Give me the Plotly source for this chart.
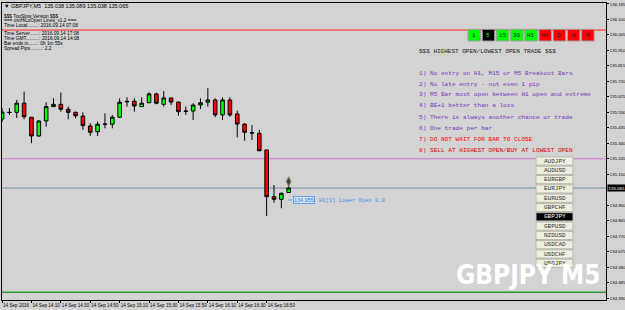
import plotly.graph_objects as go

# ---------------- data ----------------
times = [
    "2016-09-14 13:50", "2016-09-14 13:55", "2016-09-14 14:00", "2016-09-14 14:05",
    "2016-09-14 14:10", "2016-09-14 14:15", "2016-09-14 14:20", "2016-09-14 14:25",
    "2016-09-14 14:30", "2016-09-14 14:35", "2016-09-14 14:40", "2016-09-14 14:45",
    "2016-09-14 14:50", "2016-09-14 14:55", "2016-09-14 15:00", "2016-09-14 15:05",
    "2016-09-14 15:10", "2016-09-14 15:15", "2016-09-14 15:20", "2016-09-14 15:25",
    "2016-09-14 15:30", "2016-09-14 15:35", "2016-09-14 15:40", "2016-09-14 15:45",
    "2016-09-14 15:50", "2016-09-14 15:55", "2016-09-14 16:00", "2016-09-14 16:05",
    "2016-09-14 16:10", "2016-09-14 16:15", "2016-09-14 16:20", "2016-09-14 16:25",
    "2016-09-14 16:30", "2016-09-14 16:35", "2016-09-14 16:40", "2016-09-14 16:45",
    "2016-09-14 16:50", "2016-09-14 16:55", "2016-09-14 17:00", "2016-09-14 17:05",
]
opens = [135.489, 135.530, 135.530, 135.586, 135.500, 135.385, 135.477, 135.565,
         135.579, 135.549, 135.530, 135.507, 135.446, 135.411, 135.458, 135.457,
         135.500, 135.598, 135.598, 135.565, 135.589, 135.643, 135.579, 135.618,
         135.593, 135.538, 135.538, 135.575, 135.592, 135.606, 135.514, 135.606,
         135.520, 135.458, 135.405, 135.401, 135.299, 135.012, 134.996, 135.038]
highs = [135.557, 135.557, 135.606, 135.657, 135.501, 135.483, 135.592, 135.616,
         135.651, 135.565, 135.534, 135.530, 135.463, 135.473, 135.524, 135.514,
         135.616, 135.622, 135.616, 135.622, 135.653, 135.651, 135.661, 135.622,
         135.595, 135.565, 135.586, 135.616, 135.678, 135.616, 135.622, 135.622,
         135.540, 135.463, 135.452, 135.422, 135.299, 135.084, 135.037, 135.089]
lows = [135.471, 135.514, 135.495, 135.487, 135.340, 135.379, 135.442, 135.563,
        135.534, 135.487, 135.493, 135.422, 135.385, 135.385, 135.432, 135.432,
        135.495, 135.565, 135.534, 135.565, 135.586, 135.579, 135.565, 135.575,
        135.509, 135.514, 135.483, 135.551, 135.565, 135.500, 135.483, 135.503,
        135.377, 135.356, 135.360, 135.294, 134.894, 134.975, 134.941, 135.038]
closes = [135.532, 135.529, 135.586, 135.503, 135.385, 135.477, 135.565, 135.579,
          135.549, 135.530, 135.509, 135.448, 135.407, 135.457, 135.457, 135.500,
          135.592, 135.595, 135.569, 135.586, 135.643, 135.586, 135.618, 135.593,
          135.534, 135.536, 135.575, 135.589, 135.606, 135.514, 135.606, 135.514,
          135.458, 135.407, 135.403, 135.294, 135.012, 134.996, 135.033, 135.065]

signal_time = ["2016-09-14 17:05"]
signal_price = [135.105]

xtick_times = ["2016-09-14 13:50", "2016-09-14 14:10", "2016-09-14 14:30", "2016-09-14 14:50",
               "2016-09-14 15:10", "2016-09-14 15:30", "2016-09-14 15:50", "2016-09-14 16:10",
               "2016-09-14 16:30", "2016-09-14 16:50"]
xtick_text = ["14 Sep 2016", "14 Sep 14:10", "14 Sep 14:30", "14 Sep 14:50", "14 Sep 15:10",
              "14 Sep 15:30", "14 Sep 15:50", "14 Sep 16:10", "14 Sep 16:30", "14 Sep 16:50"]

ytick_vals = [136.195, 136.100, 136.005, 135.910, 135.815, 135.720, 135.625, 135.530,
              135.435, 135.340, 135.245, 135.150, 134.960, 134.865, 134.770, 134.675,
              134.580, 134.485, 134.390]

bid_price = 135.065
high_open_line = 136.035
mid_line = 135.245
low_line = 134.425
lower_open_price = "134.955"

timeframes = ["1", "5", "15", "30", "H1", "H4", "D", "W", "M"]
tf_colors = ["#00ff00", "#000000", "#00ff00", "#00ff00", "#00ff00", "#ff0000", "#ff0000", "#ff0000", "#ff0000"]

symbols = ["AUDJPY", "AUDUSD", "EURGBP", "EURJPY", "EURUSD", "GBPCHF",
           "GBPJPY", "GBPUSD", "NZDUSD", "USDCAD", "USDCHF", "USDJPY"]
active_symbol = "GBPJPY"

info_lines = ["$$$ TooSlow Version $$$", "=== omHiLoOpen Lines_v1.2 ===",
              "Time Local........: 2016.09.14 07:08", "Time Server.......: 2016.09.14 17:08",
              "Time GMT..........: 2016.09.14 14:08", "Bar ends in.......: 0h 1m 55s",
              "Spread Pips.........: 2.2"]

rules = ["1) No entry on H1, M15 or M5 Breakout Bars",
         "2) No late entry - not even 1 pip",
         "3) M5 Bar must open between H1 open and extreme",
         "4) BE+1 better than a loss",
         "5) There is always another chance or trade",
         "6) One trade per bar",
         "7) DO NOT WAIT FOR BAR TO CLOSE",
         "8) SELL AT HIGHEST OPEN/BUY AT LOWEST OPEN"]
rule_colors = ["#7a33c0"] * 6 + ["#ff0000", "#e00000"]

# ---------------- layout geometry ----------------
W, H = 625, 310
L, R, T, B = 2, 19, 3, 10
PW, PH = W - L - R, H - T - B
BG = "#d3d3d3"


def px(x):
    return (x - L) / PW


def py(y):
    return 1 - (y - T) / PH


fig = go.Figure()
fig.add_trace(go.Candlestick(
    x=times, open=opens, high=highs, low=lows, close=closes,
    increasing=dict(fillcolor="#00ff00", line=dict(color="#000000", width=1)),
    decreasing=dict(fillcolor="#ff0000", line=dict(color="#000000", width=1)),
    hoverinfo="skip", showlegend=False,
))
fig.add_trace(go.Scatter(
    x=signal_time, y=signal_price, mode="markers",
    marker=dict(symbol="diamond-tall", size=7, color="#4a4038",
                line=dict(color="#8a8a8a", width=1)),
    hoverinfo="skip", showlegend=False,
))

shapes = []
annotations = []

# horizontal lines
for yv, col, wd in [(high_open_line, "#ff2020", 1), (mid_line, "#d070d0", 1),
                    (bid_price, "#778899", 1), (low_line, "#2e9a2e", 1.5)]:
    shapes.append(dict(type="line", xref="paper", yref="y", x0=0, x1=1, y0=yv, y1=yv,
                       line=dict(color=col, width=wd), layer="below"))

# top-left info
annotations.append(dict(text="▼ GBPJPY,M5  135.038 135.089 135.038 135.065", x=px(3), y=py(5.5),
                        xref="paper", yref="paper", xanchor="left", yanchor="middle", showarrow=False,
                        borderpad=0,
                        font=dict(size=5.5, color="#000000", family="Liberation Sans")))
info_y = [16, 21, 26, 33.3, 38.3, 43.3, 48.3]
for t, yy in zip(info_lines, info_y):
    annotations.append(dict(text=t, x=px(3), y=py(yy), xref="paper", yref="paper",
                            xanchor="left", yanchor="middle", showarrow=False, borderpad=0,
                            font=dict(size=4.8, color="#000000", family="Liberation Sans")))

# timeframe buttons
for i, (tf, col) in enumerate(zip(timeframes, tf_colors)):
    x0 = 468 + i * 14.2
    shapes.append(dict(type="rect", xref="paper", yref="paper", x0=px(x0), x1=px(x0 + 12.5),
                       y0=py(41), y1=py(29.3), fillcolor=col, line=dict(color="#a0a0a0", width=1),
                       layer="above"))
    annotations.append(dict(text=tf, x=px(x0 + 6.25), y=py(35.3), xref="paper", yref="paper",
                            xanchor="center", yanchor="middle", showarrow=False,
                            font=dict(size=6, family="Liberation Mono",
                                      color="#00ff00" if col == "#000000" else "#202020")))

# rules header + list
annotations.append(dict(text="$$$ HIGHEST OPEN/LOWEST OPEN TRADE $$$", x=px(417), y=py(51),
                        xref="paper", yref="paper", xanchor="left", yanchor="middle", showarrow=False,
                        font=dict(size=6, family="Liberation Mono", color="#202020")))
rule_y = [73.3, 84, 95, 106, 117.3, 128.3, 139, 150]
for t, yy, c in zip(rules, rule_y, rule_colors):
    annotations.append(dict(text=t, x=px(417), y=py(yy), xref="paper", yref="paper",
                            xanchor="left", yanchor="middle", showarrow=False,
                            font=dict(size=6.1, family="Liberation Mono", color=c)))

# symbol buttons
for i, s in enumerate(symbols):
    yc = 161 + i * 9.3
    active = s == active_symbol
    shapes.append(dict(type="rect", xref="paper", yref="paper", x0=px(536), x1=px(573),
                       y0=py(yc + 4.1), y1=py(yc - 4.1),
                       fillcolor="#000000" if active else "#f0eedc",
                       line=dict(color="#b8b8b0", width=1), layer="above"))
    annotations.append(dict(text=s, x=px(554.5), y=py(yc), xref="paper", yref="paper",
                            xanchor="center", yanchor="middle", showarrow=False, borderpad=0,
                            font=dict(size=6, family="Liberation Mono",
                                      color="#ffffff" if active else "#303030")))

# lower open label near last candle
shapes.append(dict(type="line", xref="paper", yref="paper", x0=px(288), x1=px(292),
                   y0=py(200), y1=py(200), line=dict(color="#5f9fe0", width=1)))
annotations.append(dict(text=lower_open_price, x=px(293), y=py(200), xref="paper", yref="paper",
                        xanchor="left", yanchor="middle", showarrow=False, bgcolor="#d8e4f0",
                        bordercolor="#5fa0f0", borderwidth=1, borderpad=0,
                        font=dict(size=5.5, family="Liberation Sans", color="#2f7fe0")))
annotations.append(dict(text="H1[1] Lower Open 0.0", x=px(317), y=py(200), xref="paper", yref="paper",
                        xanchor="left", yanchor="middle", showarrow=False,
                        font=dict(size=5.5, family="Liberation Mono", color="#3f8fef")))

# current price label on the axis
annotations.append(dict(text=f"{bid_price:.3f}", x=px(606.5), y=bid_price, xref="paper", yref="y",
                        xanchor="left", yanchor="middle", showarrow=False, bgcolor="#000000",
                        borderpad=0.5, font=dict(size=4.4, family="Liberation Sans", color="#ffffff")))

# watermark
annotations.append(dict(text="GBPJPY M5", x=px(528), y=py(275), xref="paper", yref="paper",
                        xanchor="center", yanchor="middle", showarrow=False,
                        font=dict(size=26, family="DejaVu Sans Condensed", weight="bold",
                                  color="#ffffff")))

fig.update_layout(
    width=W, height=H, margin=dict(l=L, r=R, t=T, b=B, autoexpand=False),
    paper_bgcolor=BG, plot_bgcolor=BG, showlegend=False, hovermode=False,
    shapes=shapes, annotations=annotations,
    xaxis=dict(type="date", range=["2016-09-14 13:49:58", "2016-09-14 20:40:52"],
               rangeslider=dict(visible=False), showgrid=False, zeroline=False,
               showline=True, linecolor="#000000", linewidth=1, mirror=True,
               tickvals=xtick_times, ticktext=xtick_text, ticks="outside", ticklen=2,
               tickcolor="#000000", ticklabelposition="outside right", tickangle=0,
               automargin=False,
               tickfont=dict(size=4.6, family="Liberation Sans", color="#000000")),
    yaxis=dict(range=[134.3779, 136.2011], side="right", showgrid=False, zeroline=False,
               showline=True, linecolor="#000000", linewidth=1, mirror=True,
               tickvals=ytick_vals, ticktext=[f"{v:.3f}" for v in ytick_vals],
               ticks="outside", ticklen=2, tickcolor="#000000", automargin=False,
               tickfont=dict(size=4.3, family="Liberation Sans", color="#000000")),
)

fig.write_html("out.html")
